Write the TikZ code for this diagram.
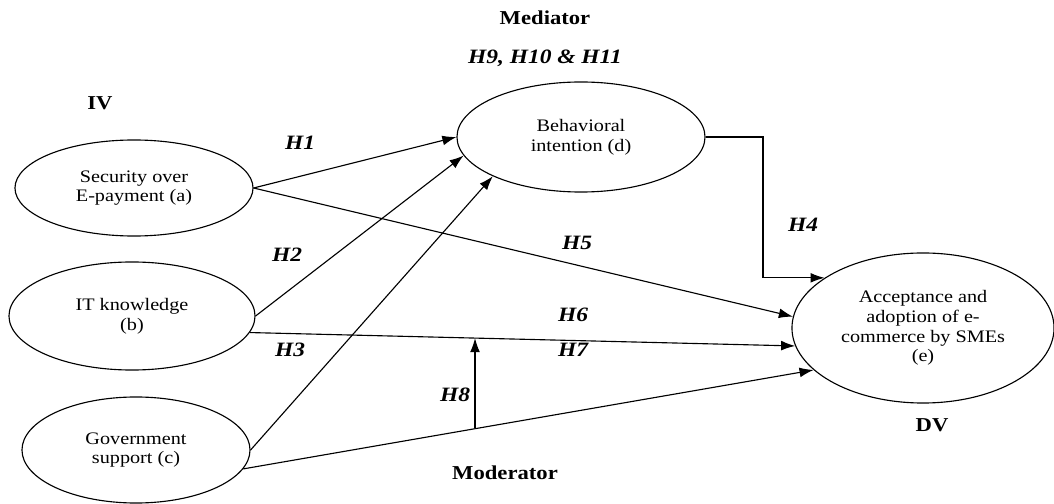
\documentclass[tikz,border=0pt]{standalone}
\usepackage{fontspec}
\setmainfont[FakeStretch=1.15]{Liberation Serif}
\usetikzlibrary{arrows,arrows.meta,calc,positioning,shapes.geometric}

\begin{document}
\begin{tikzpicture}[
    x=0.025cm, y=-0.025cm,
    >={Latex[length=10pt,width=7pt]},
    construct/.style={ellipse, draw, line width=0.8pt, align=center, inner sep=0,
        font=\fontsize{12.5}{14}\selectfont},
    hyp/.style={font=\fontsize{14.5}{16}\selectfont\bfseries\itshape},
    role/.style={font=\fontsize{14}{16}\selectfont\bfseries},
    link/.style={->, line width=0.8pt}]

\useasboundingbox (0,0) rectangle (1054,504);

\node[construct, minimum width=5.95cm, minimum height=2.4cm]  (secpay) at (134,188) {Security over\\E-payment (a)};
\node[construct, minimum width=6.15cm, minimum height=2.7cm]  (knowl)  at (132,316) {IT knowledge\\(b)};
\node[construct, minimum width=5.7cm,  minimum height=2.65cm] (govsup) at (136,450) {Government\\support (c)};
\node[construct, minimum width=6.2cm,  minimum height=2.75cm] (behav)  at (581,137) {Behavioral\\intention (d)};
\node[construct, minimum width=6.55cm, minimum height=3.75cm] (accept) at (923,328) {Acceptance and\\adoption of e-\\commerce by SMEs\\(e)};

\node[role] (iv)   at (100,103) {IV};
\node[role] (med)  at (545,18)  {Mediator};
\node[hyp]  (hmed) at (545,58)  {H9, H10 \& H11};
\node[role] (dv)   at (932,425) {DV};
\node[role] (mod)  at (505,473) {Moderator};

\node[hyp] (h1) at (300,143) {H1};
\node[hyp] (h2) at (287,255) {H2};
\node[hyp] (h3) at (290,350) {H3};
\node[hyp] (h4) at (803,225) {H4};
\node[hyp] (h5) at (577,243) {H5};
\node[hyp] (h6) at (573,315) {H6};
\node[hyp] (h7) at (573,350) {H7};
\node[hyp] (h8) at (455,395) {H8};

\draw[link] (secpay.east) -- (behav.west);
\draw[link] (knowl.east) -- (behav.189);
\draw[link] (govsup.east) -- (behav.204);
\draw[link] (secpay.east) -- (accept.175);
\draw[link] (knowl.-8) -- coordinate[pos=0.413] (modtip) (accept.188);
\draw[link] (govsup.-10) -- (accept.201);

\coordinate (bend) at (763,137);
\draw[link] (behav.east) -- (bend) |- (accept.153);

\coordinate (modbase) at ($(modtip)+(0,90)$);
\draw[link] (modbase) -- (modtip);

\end{tikzpicture}
\end{document}
